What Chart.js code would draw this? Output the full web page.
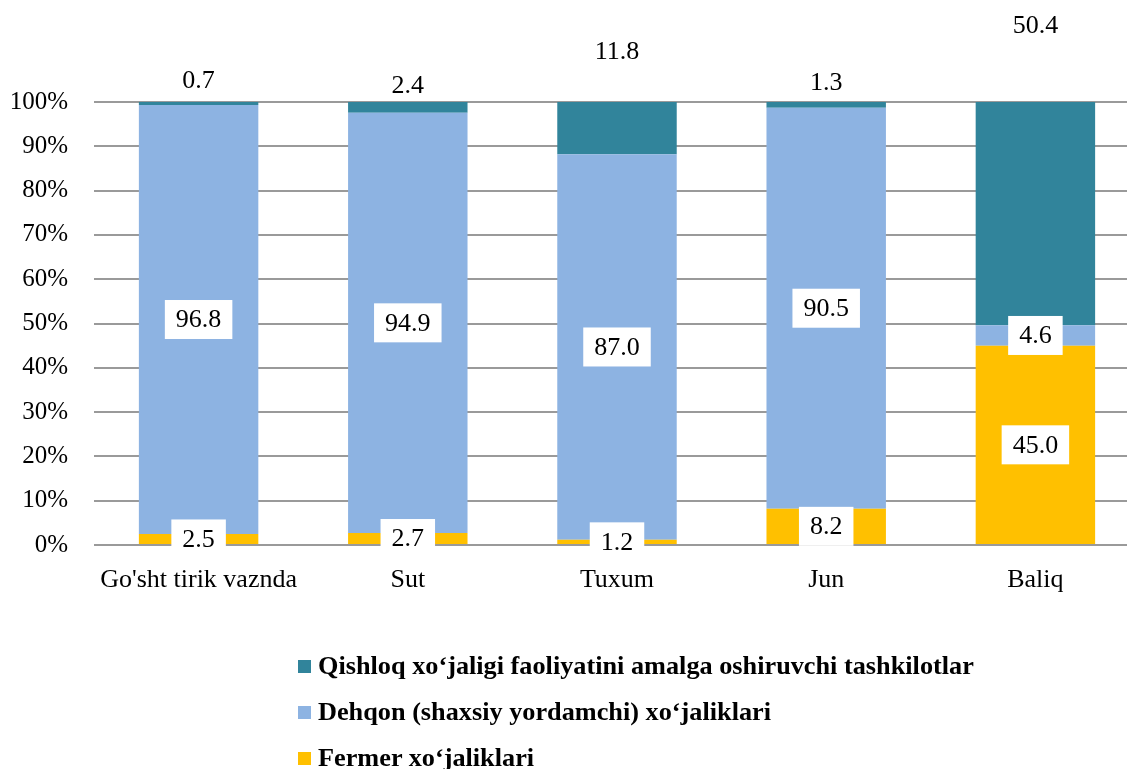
<!DOCTYPE html>
<html><head><meta charset="utf-8">
<script src="https://cdn.jsdelivr.net/npm/chart.js@4.4.0/dist/chart.umd.min.js"></script>
<style>
html,body{margin:0;padding:0;background:#fff;overflow:hidden;width:1127px;height:769px;}
#wrap{position:absolute;left:0;top:0;width:1140px;height:769px;}
#legend{position:absolute;left:298px;top:643px;font-family:"Liberation Serif","Times New Roman",serif;font-weight:bold;font-size:26px;color:#000;}
.item{height:46px;display:flex;align-items:center;white-space:nowrap;}
.sw{width:13px;height:13px;margin-right:7px;flex:none;}
.txt{display:inline-block;transform-origin:left center;transform:scaleX(1.01);}
</style></head>
<body>
<div id="wrap"><canvas id="c" width="1140" height="769"></canvas></div>
<div id="legend"></div>
<script>
const categories = ["Go'sht tirik vaznda", "Sut", "Tuxum", "Jun", "Baliq"];
const seriesNames = [
  "Qishloq xoʻjaligi faoliyatini amalga oshiruvchi tashkilotlar",
  "Dehqon (shaxsiy yordamchi) xoʻjaliklari",
  "Fermer xoʻjaliklari"
];
const fermer = [2.5, 2.7, 1.2, 8.2, 45.0];
const dehqon = [96.8, 94.9, 87.0, 90.5, 4.6];
const tashkilot = [0.7, 2.4, 11.8, 1.3, 50.4];
const yTickValues = [0, 10, 20, 30, 40, 50, 60, 70, 80, 90, 100];
const seriesColors = ["#31849B", "#8DB3E2", "#FFC000"];

const FONT = '"Liberation Serif", "Times New Roman", serif';

const boxLabels = {
  id: 'boxLabels',
  afterDatasetsDraw(chart, args, opts) {
    const ctx = chart.ctx;
    const ys = chart.scales.y;
    ctx.save();
    ctx.font = '26px ' + FONT;
    ctx.textAlign = 'center';
    ctx.textBaseline = 'middle';
    chart.data.datasets.forEach((ds, di) => {
      const meta = chart.getDatasetMeta(di);
      const cfg = opts.series[di] || {};
      meta.data.forEach((bar, i) => {
        const txt = ds.data[i].toFixed(1);
        const cx = bar.x;
        const cy = cfg.labelAt ? ys.getPixelForValue(cfg.labelAt[i]) : (bar.y + bar.base) / 2;
        if (cfg.box) {
          const w = ctx.measureText(txt).width + 22;
          const h = 39;
          ctx.fillStyle = '#fff';
          ctx.fillRect(cx - w / 2, cy - h / 2, w, h);
        }
        ctx.fillStyle = '#000';
        ctx.fillText(txt, cx, cy + 1);
      });
    });
    ctx.restore();
  }
};

const chart = new Chart(document.getElementById('c'), {
  type: 'bar',
  data: {
    labels: categories,
    datasets: [
      { label: seriesNames[2], data: fermer, backgroundColor: seriesColors[2] },
      { label: seriesNames[1], data: dehqon, backgroundColor: seriesColors[1] },
      { label: seriesNames[0], data: tashkilot, backgroundColor: seriesColors[0] }
    ]
  },
  options: {
    responsive: false,
    animation: false,
    devicePixelRatio: 1,
    layout: { padding: { top: 102, bottom: 174, left: 0, right: 0 } },
    datasets: { bar: { categoryPercentage: 1, barPercentage: 0.571, borderWidth: 0 } },
    plugins: {
      legend: { display: false },
      tooltip: { enabled: false },
      boxLabels: {
        series: [
          { box: true },
          { box: true },
          { box: false, labelAt: [104.9, 103.8, 111.5, 104.4, 117.3] }
        ]
      }
    },
    scales: {
      x: {
        stacked: true,
        grid: { display: false },
        border: { display: false },
        ticks: { color: '#000', font: { family: FONT, size: 26 }, padding: 12 },
        afterFit(s) { s.height = 50; }
      },
      y: {
        stacked: true,
        min: 0, max: 100,
        afterBuildTicks(s) { s.ticks = yTickValues.map(v => ({ value: v })); },
        grid: { color: '#9a9a9a', lineWidth: 2, drawTicks: false },
        border: { display: false },
        ticks: { color: '#000', font: { family: FONT, size: 25 }, padding: 26, callback: v => v + '%' },
        afterFit(s) { s.width = 94; }
      }
    }
  },
  plugins: [boxLabels]
});

const legend = document.getElementById('legend');
seriesNames.forEach((n, i) => {
  const row = document.createElement('div');
  row.className = 'item';
  const sw = document.createElement('span');
  sw.className = 'sw';
  sw.style.background = seriesColors[i];
  const t = document.createElement('span');
  t.className = 'txt';
  t.textContent = n;
  row.appendChild(sw); row.appendChild(t);
  legend.appendChild(row);
});
</script>
</body></html>
